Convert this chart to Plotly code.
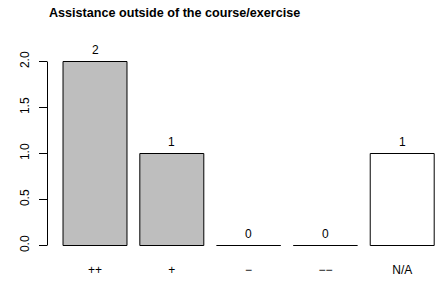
import plotly.graph_objects as go

categories = ["++", "+", "\u2212", "\u2212\u2212", "N/A"]
counts = [2, 1, 0, 0, 1]
bar_colors = ["#BEBEBE", "#BEBEBE", "#BEBEBE", "#BEBEBE", "#FFFFFF"]
y_tickvals = [0, 0.5, 1, 1.5, 2]
y_ticktext = ["0.0", "0.5", "1.0", "1.5", "2.0"]
title_text = "Assistance outside of the course/exercise"

FONT = "Liberation Sans, Arial, Helvetica, sans-serif"
bar_width = 0.833
xs = list(range(len(categories)))

fig = go.Figure()
fig.add_trace(go.Bar(
    x=xs, y=counts, width=bar_width,
    marker=dict(color=bar_colors, line=dict(color="black", width=1)),
    hoverinfo="skip", showlegend=False,
))

shapes = []
# y axis line spanning tick range only
shapes.append(dict(type="line", xref="paper", yref="y", x0=-0.5 / 394, x1=-0.5 / 394,
                   y0=min(y_tickvals), y1=max(y_tickvals),
                   line=dict(color="black", width=1)))

annotations = [dict(x=x, y=v, xref="x", yref="y", text=str(v), showarrow=False,
                    yanchor="bottom", yshift=3, font=dict(family=FONT, size=12, color="black"))
               for x, v in zip(xs, counts)]

fig.update_layout(
    width=442, height=283,
    margin=dict(l=48, r=0, t=30, b=33),
    plot_bgcolor="white", paper_bgcolor="white",
    font=dict(family=FONT, size=12, color="black"),
    title=dict(text="<b>" + title_text + "</b>", x=49 / 442, xanchor="left",
               xref="container", y=1 - 13 / 283, yanchor="middle", yref="container",
               font=dict(family=FONT, size=12.6, color="black")),
    shapes=shapes, annotations=annotations,
    xaxis=dict(range=[-0.612, 4.518], tickvals=xs, ticktext=categories,
               showgrid=False, zeroline=False, showline=False, ticks="",
               ticklabelstandoff=11, tickfont=dict(size=12)),
    yaxis=dict(range=[-0.0489, 2.3424], tickvals=y_tickvals, ticktext=y_ticktext,
               showgrid=False, zeroline=False, showline=False,
               ticks="outside", ticklen=8, tickcolor="black", tickwidth=1,
               tickangle=-90, ticklabelstandoff=5, tickfont=dict(size=12)),
)

fig.write_html("out.html", post_script="document.body.style.margin='0';",
               config={"displayModeBar": False})
